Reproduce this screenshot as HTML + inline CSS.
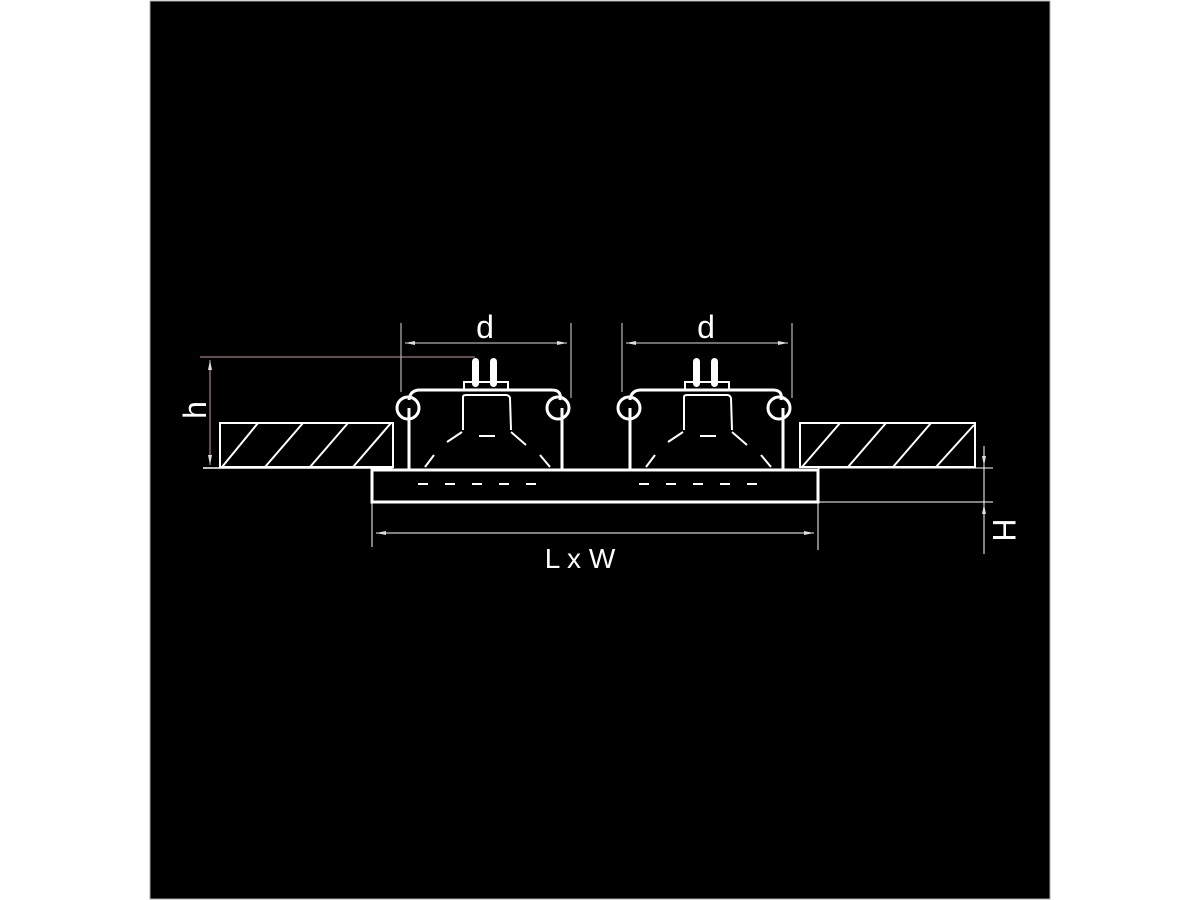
<!DOCTYPE html>
<html><head><style>
html,body{margin:0;padding:0;background:#fff;width:1200px;height:900px;overflow:hidden}
svg{display:block}
</style></head><body>
<svg width="1200" height="900" viewBox="0 0 1200 900" xmlns="http://www.w3.org/2000/svg">
<rect x="150" y="1" width="900" height="898" fill="#000" stroke="#aaa" stroke-width="1"/>
<defs>
<g id="lamp" fill="none" stroke="#fff">
 <line x1="401" y1="323" x2="401" y2="392" stroke-width="1" stroke="#ddd"/>
 <line x1="571" y1="323" x2="571" y2="398" stroke-width="1" stroke="#ddd"/>
 <line x1="405" y1="343" x2="567" y2="343" stroke-width="1" stroke="#ddd"/>
 <path d="M405 343 l10 -2 v4z M567 343 l-10 -2 v4z" fill="#ddd" stroke="none"/>
 <path d="M409 400 Q410 390 420 390 L552 390 Q562 390 560 400" stroke-width="3"/>
 <circle cx="408" cy="408" r="11" stroke-width="3"/>
 <circle cx="558" cy="408" r="11" stroke-width="3"/>
 <line x1="409" y1="408" x2="409" y2="469" stroke-width="3"/>
 <line x1="562" y1="408" x2="562" y2="469" stroke-width="3"/>
 <rect x="472" y="358" width="7" height="29" rx="3.5" fill="#fff" stroke="none"/>
 <rect x="490" y="358" width="7" height="29" rx="3.5" fill="#fff" stroke="none"/>
 <path d="M464 389 v-7 h44 v7" stroke-width="2"/>
 <path d="M463 430 V397 Q463 395 466 395 L506 395 Q509 395 510 398 L511 430" stroke-width="2"/>
 <path d="M462 432 L447 442" stroke-width="2"/>
 <path d="M511 432 L526 445" stroke-width="2"/>
 <line x1="479" y1="436" x2="495" y2="436" stroke-width="2"/>
 <path d="M425 467 L434 455" stroke-width="2"/>
 <path d="M540 455 L550 467" stroke-width="2"/>
 <line x1="418" y1="484" x2="548" y2="484" stroke-width="2" stroke-dasharray="10 17"/>
</g>
</defs>
<use href="#lamp"/>
<use href="#lamp" transform="translate(221,0)"/>
<g fill="none" stroke="#fff">
 <rect x="220" y="423" width="173" height="44" stroke-width="2"/>
 <path d="M222 467 L258 423 M265 467 L303 423 M310 467 L348 423 M353 467 L391 423" stroke-width="2"/>
 <rect x="800" y="423" width="175" height="44" stroke-width="2"/>
 <path d="M802 467 L840 423 M848 467 L886 423 M893 467 L931 423 M936 467 L974 425" stroke-width="2"/>
 <line x1="203" y1="468" x2="393" y2="468" stroke-width="1.5"/>
 <path d="M372 502 V470 H818 V502 Z" stroke-width="3"/>
 <line x1="200" y1="357" x2="475" y2="357" stroke="#c99" stroke-width="1"/>
 <line x1="210" y1="360" x2="210" y2="465" stroke="#c99" stroke-width="1"/>
 <line x1="372" y1="502" x2="372" y2="547" stroke-width="1"/>
 <line x1="818" y1="502" x2="818" y2="550" stroke-width="1"/>
 <line x1="376" y1="533" x2="814" y2="533" stroke-width="1"/>
 <line x1="818" y1="468" x2="993" y2="468" stroke-width="1"/>
 <line x1="818" y1="502" x2="993" y2="502" stroke-width="1"/>
 <line x1="984" y1="446" x2="984" y2="554" stroke-width="1"/>
</g>
<path d="M210 360 l-2 10 h4z M210 465 l-2 -10 h4z M376 533 l10 -2 v4z M814 533 l-10 -2 v4z M984 466 l-2 -10 h4z M984 504 l-2 10 h4z" fill="#ddd"/>
<g fill="#fff" font-family="Liberation Sans, sans-serif" font-size="32">
 <text x="485" y="338" text-anchor="middle">d</text>
 <text x="706" y="338" text-anchor="middle">d</text>
 <text x="580" y="568" text-anchor="middle" font-size="28">L x W</text>
 <text transform="translate(206,410) rotate(-90)" text-anchor="middle">h</text>
 <text transform="translate(993,530) rotate(90)" text-anchor="middle">H</text>
</g>
</svg>
</body></html>
